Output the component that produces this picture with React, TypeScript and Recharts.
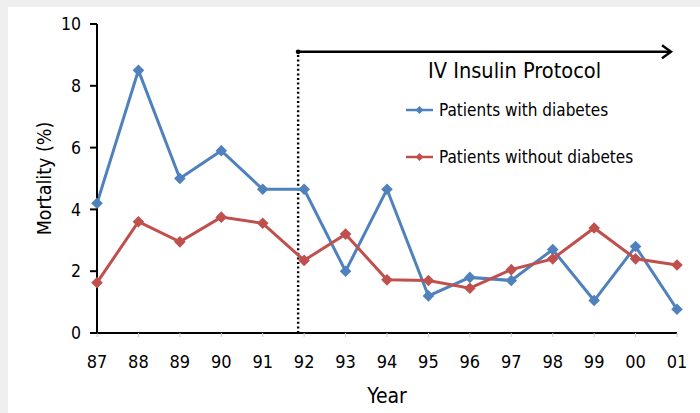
import React from "react";
import { LineChart, Line, XAxis, YAxis, ReferenceLine, Legend } from "recharts";

const years = ["87", "88", "89", "90", "91", "92", "93", "94", "95", "96", "97", "98", "99", "00", "01"];
const withDiabetes = [4.2, 8.5, 5.0, 5.9, 4.65, 4.65, 2.0, 4.65, 1.2, 1.8, 1.7, 2.7, 1.05, 2.8, 0.77];
const withoutDiabetes = [1.63, 3.6, 2.95, 3.75, 3.55, 2.35, 3.2, 1.72, 1.7, 1.45, 2.05, 2.4, 3.4, 2.4, 2.2];
const yTicks = [0, 2, 4, 6, 8, 10];

const protocolStart = "92";
const protocolEnd = "01";
const protocolLevel = 9.1;
const protocolTitle = "IV Insulin Protocol";

const BLUE = "#4f81bd";
const RED = "#c0504d";
const FONT = "'DejaVu Sans Condensed', 'DejaVu Sans', sans-serif";

const data = years.map((year, i) => ({
  year,
  withDiabetes: withDiabetes[i],
  withoutDiabetes: withoutDiabetes[i],
}));

const series = [
  { key: "withDiabetes", name: "Patients with diabetes", color: BLUE },
  { key: "withoutDiabetes", name: "Patients without diabetes", color: RED },
];

const diamond = (color: string, r = 5.8) => (props: any) => {
  const { cx, cy, index } = props;
  if (cx == null || cy == null) return <g key={index} />;
  return (
    <path
      key={index}
      d={`M${cx},${cy - r}L${cx + r},${cy}L${cx},${cy + r}L${cx - r},${cy}Z`}
      fill={color}
    />
  );
};

// the annotation sits a few px left of the 92 tick in the original
const SHIFT = -6;

const DottedStart = (props: any) => {
  const { x1, y1, x2, y2 } = props;
  return (
    <line
      x1={x1 + SHIFT}
      y1={y1}
      x2={x2 + SHIFT}
      y2={y2}
      stroke="#000"
      strokeWidth={2.4}
      strokeDasharray="2 2.6"
    />
  );
};

const Arrow = (props: any) => {
  const { x1, y1, x2 } = props;
  const sx = x1 + SHIFT;
  const ex = x2 + SHIFT;
  return (
    <g>
      <circle cx={sx} cy={y1} r={2.4} fill="#000" />
      <line x1={sx} y1={y1} x2={ex} y2={y1} stroke="#000" strokeWidth={2.4} />
      <polyline
        points={`${ex - 9},${y1 - 6.5} ${ex},${y1} ${ex - 9},${y1 + 6.5}`}
        fill="none"
        stroke="#000"
        strokeWidth={2.4}
      />
    </g>
  );
};

const YLabel = (props: any) => {
  const { viewBox } = props;
  const cx = viewBox.x + 7;
  const cy = viewBox.y + viewBox.height / 2;
  return (
    <text
      x={cx}
      y={cy}
      transform={`rotate(-90 ${cx} ${cy})`}
      textAnchor="middle"
      dominantBaseline="central"
      fontSize={19.5}
      fontFamily={FONT}
      fill="#000"
    >
      Mortality (%)
    </text>
  );
};

const LegendBlock = () => (
  <div style={{ fontFamily: FONT, color: "#000" }}>
    <div style={{ height: 30, lineHeight: "30px", fontSize: 21.6, paddingLeft: 22, whiteSpace: "nowrap" }}>
      {protocolTitle}
    </div>
    {series.map((s) => (
      <div key={s.key} style={{ height: 47, display: "flex", alignItems: "center", whiteSpace: "nowrap" }}>
        <svg width={27} height={12} style={{ marginRight: 6 }}>
          <line x1={0} y1={6} x2={27} y2={6} stroke={s.color} strokeWidth={2.5} />
          <path d="M13.5,2L17.5,6L13.5,10L9.5,6Z" fill={s.color} />
        </svg>
        <span style={{ fontSize: 17 }}>{s.name}</span>
      </div>
    ))}
  </div>
);

export default function App() {
  return (
    <div style={{ position: "fixed", left: 0, top: 0, width: 700, height: 413, background: "#efefef" }}>
      <div style={{ position: "absolute", left: 8, top: 7, right: 0, bottom: 0, background: "#fff" }} />
      <div style={{ position: "absolute", left: 0, top: 0 }}>
        <LineChart
          width={700}
          height={413}
          data={data}
          margin={{ top: 24, right: 23, bottom: 5, left: 37 }}
          style={{ fontFamily: FONT }}
        >
          <XAxis
            dataKey="year"
            height={75}
            axisLine={{ stroke: "#000", strokeWidth: 2 }}
            tickLine={{ stroke: "#c8c8c8" }}
            tickSize={4}
            tickMargin={18}
            tick={{ fontSize: 18, fill: "#000", fontFamily: FONT }}
            interval={0}
            label={{ value: "Year", position: "insideBottom", offset: 5, fontSize: 21, fill: "#000", fontFamily: FONT }}
          />
          <YAxis
            domain={[0, 10]}
            ticks={yTicks}
            width={60}
            axisLine={{ stroke: "#000", strokeWidth: 2 }}
            tickLine={{ stroke: "#000", strokeWidth: 2 }}
            tickSize={7}
            tickMargin={9}
            tick={{ fontSize: 17.5, fill: "#000", fontFamily: FONT }}
            label={{ content: YLabel }}
          />
          <ReferenceLine
            segment={[
              { x: protocolStart, y: 0 },
              { x: protocolStart, y: protocolLevel },
            ]}
            shape={DottedStart}
          />
          <ReferenceLine
            segment={[
              { x: protocolStart, y: protocolLevel },
              { x: protocolEnd, y: protocolLevel },
            ]}
            shape={Arrow}
          />
          {series.map((s) => (
            <Line
              key={s.key}
              dataKey={s.key}
              name={s.name}
              stroke={s.color}
              strokeWidth={3}
              dot={diamond(s.color)}
              activeDot={false}
              isAnimationActive={false}
            />
          ))}
          <Legend
            layout="vertical"
            align="center"
            verticalAlign="middle"
            wrapperStyle={{ left: 406, top: 56, width: 260 }}
            content={() => <LegendBlock />}
          />
        </LineChart>
      </div>
    </div>
  );
}
